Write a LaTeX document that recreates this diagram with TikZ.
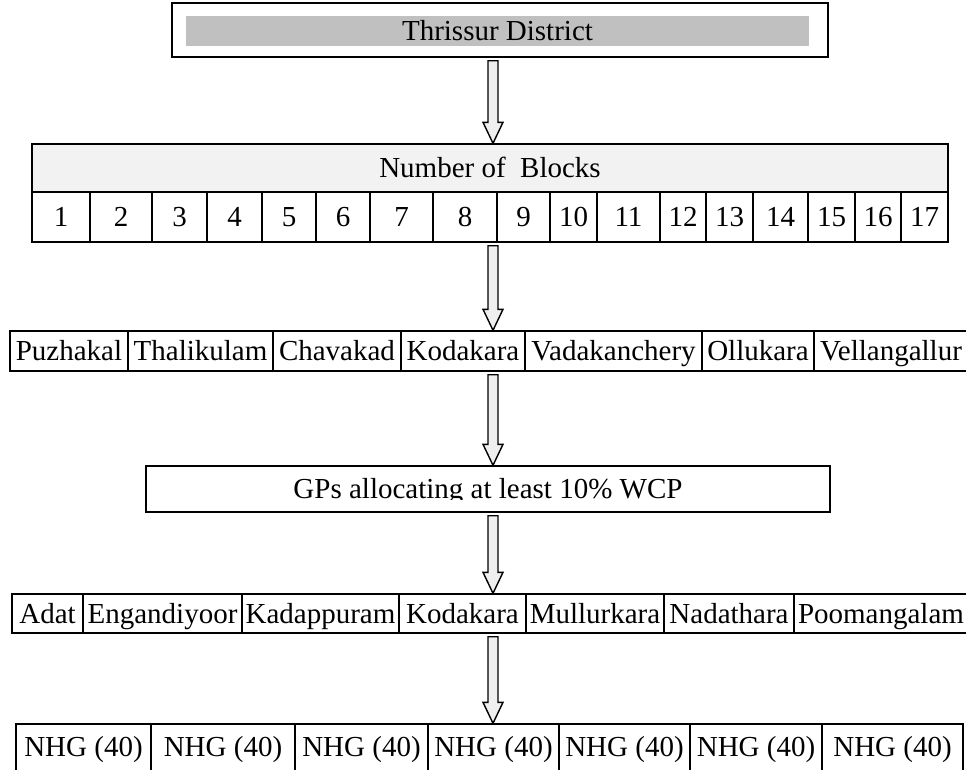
\documentclass[tikz,border=0pt]{standalone}
\usepackage{fontspec}
\setmainfont{Liberation Serif}
\usetikzlibrary{calc}
\definecolor{bandgray}{HTML}{C0C0C0}
\definecolor{headgray}{HTML}{F2F2F2}
\definecolor{arrowgray}{HTML}{EFEFEF}
\tikzset{
  txt/.style={font=\fontsize{29}{34}\selectfont, text height=24pt, text depth=5pt},
  cell/.style={draw=black, line width=1.4pt, inner sep=0pt, txt},
  bigarrow/.style={draw=black, line width=1.4pt, fill=arrowgray, line join=miter},
}
% hollow block arrow from the bottom of one node to the top of the next
\newcommand\blockarrow[2]{%
  \path (#1.south -| axis) ++(0,3) coordinate (tmpa);
  \path (#2.north -| axis) coordinate (tmpb);
  \draw[bigarrow] let \p1=(tmpa), \p2=(tmpb) in
    (\x1-5pt,\y1) -- (\x1+5pt,\y1) -- (\x1+5pt,\y2+21pt) -- (\x1+10pt,\y2+21pt)
    -- (\x1,\y2) -- (\x1-10pt,\y2+21pt) -- (\x1-5pt,\y2+21pt) -- cycle;}

\begin{document}
\begin{tikzpicture}[x=1pt,y=-1pt]
\useasboundingbox (0,0) rectangle (966,769);
\coordinate (axis) at (493,0);

% district
\node[cell, minimum width=656, minimum height=54] (distbox) at (500,30) {};
\node[fill=bandgray, minimum width=623, minimum height=30, inner sep=0pt, txt] (distband) at (497.5,31) {Thrissur District};

% blocks table
\node[cell, fill=headgray, minimum width=916, minimum height=48] (blkhead) at (490,168) {Number of \ Blocks};
\foreach \l/\r/\t [count=\i] in {32/90/1,90/152/2,152/207/3,207/262/4,262/316/5,316/370/6,370/433/7,433/497/8,497/550/9,550/597/10,597/660/11,660/706/12,706/753/13,753/808/14,808/855/15,855/901/16,901/948/17}
  \node[cell, minimum width={\r-\l}, minimum height=50] (blk\i) at ({(\l+\r)/2},217) {\t};

% selected blocks
\foreach \l/\r/\t [count=\i] in {10/128/Puzhakal,128/273/Thalikulam,273/401/Chavakad,401/525/Kodakara,525/702/Vadakanchery,702/814/Ollukara,814/968/Vellangallur}
  \node[cell, minimum width={\r-\l}, minimum height=40] (town\i) at ({(\l+\r)/2},351) {\t};

% GP criterion: the text box is too short, so the line is cut just below its baseline
\node[cell, minimum width=684, minimum height=46] (gps) at (488,489) {};
\begin{scope}
  \clip (gps.north west) rectangle ([yshift=-10.5pt]gps.east);
  \node[txt, inner sep=0pt] (gpstext) at (gps.center) {GPs allocating at least 10\% WCP};
\end{scope}

% selected GPs
\foreach \l/\r/\t [count=\i] in {12/83/Adat,83/242/Engandiyoor,242/399/Kadappuram,399/526/Kodakara,526/664/Mullurkara,664/794/Nadathara,794/968/Poomangalam}
  \node[cell, minimum width={\r-\l}, minimum height=39] (gp\i) at ({(\l+\r)/2},613.5) {\t};

% neighbourhood groups (open at the foot of the page)
\foreach \l/\r [count=\i] in {16/151,151/295,295/428,428/559,559/690,690/822,822/963}
  \node[cell, minimum width={\r-\l}, minimum height=60] (nhg\i) at ({(\l+\r)/2},754) {};
\foreach \i in {1,...,7}
  \node[txt, inner sep=0pt] (nhgtext\i) at (nhg\i.center |- 0,747) {NHG (40)};

\blockarrow{distbox}{blkhead}
\blockarrow{blk8}{town4}
\blockarrow{town4}{gps}
\blockarrow{gps}{gp4}
\blockarrow{gp4}{nhg4}
\end{tikzpicture}
\end{document}
